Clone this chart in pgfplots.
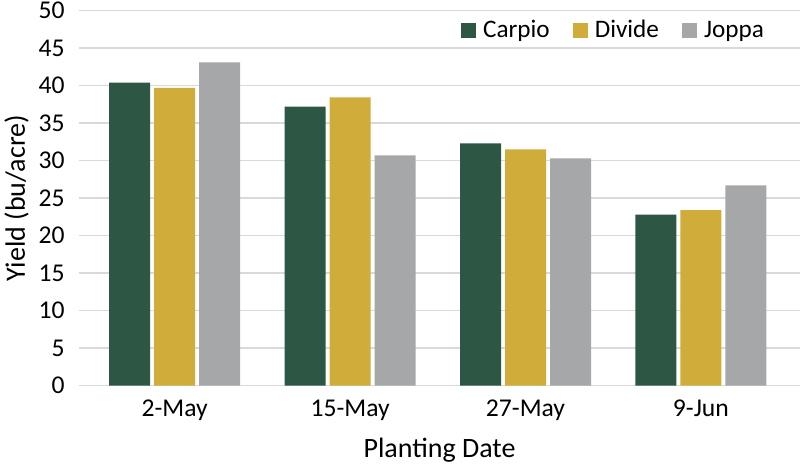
\documentclass[border=0pt]{standalone}
\usepackage{fontspec}
\setmainfont{Carlito}
\usepackage{pgfplots}
\pgfplotsset{compat=1.18}

\definecolor{carpio}{RGB}{46,86,68}
\definecolor{divide}{RGB}{208,172,58}
\definecolor{joppa}{RGB}{165,167,169}
\definecolor{gridgray}{RGB}{217,217,217}

\begin{document}
\begin{tikzpicture}
\begin{axis}[
  ybar=2pt,
  bar width=20.5pt,
  scale only axis,
  width=360.5pt, height=187.5pt,
  xmin=-0.5456, xmax=3.565,
  ymin=0, ymax=50,
  ytick={0,5,...,50},
  xtick=data,
  xticklabels={2-May,15-May,27-May,9-Jun},
  axis line style={draw=none},
  major tick length=0pt,
  ymajorgrids,
  grid style={gridgray, line width=0.75pt},
  /pgf/number format/assume math mode=true,
  tick label style={font=\fontsize{12.8}{15}\selectfont},
  yticklabel style={anchor=east, inner xsep=0pt, xshift=-7pt},
  xticklabel style={anchor=base, yshift=-15.2pt},
  xlabel={Planting Date},
  ylabel={Yield (bu/acre)},
  label style={font=\fontsize{14}{16}\selectfont},
  xlabel style={at={(axis description cs:0.5,0)}, anchor=base, yshift=-36pt},
  ylabel style={at={(axis description cs:0,0.5)}, anchor=base, yshift=27pt},
  legend columns=-1,
  legend style={draw=none, fill=none, inner sep=0pt,
    at={(0.956,0.947)}, anchor=east,
    font=\fontsize{12.6}{15}\selectfont,
    /tikz/every odd column/.append style={column sep=1.5pt},
    /tikz/every even column/.append style={column sep=9.5pt}},
  legend image code/.code={\fill[#1] (0pt,-3.75pt) rectangle (7.5pt,3.75pt);},
]
\addplot[fill=carpio, draw=none] coordinates {(0,40.4) (1,37.2) (2,32.3) (3,22.8)};
\addlegendentry{Carpio}
\addplot[fill=divide, draw=none] coordinates {(0,39.7) (1,38.45) (2,31.5) (3,23.4)};
\addlegendentry{Divide}
\addplot[fill=joppa, draw=none] coordinates {(0,43.1) (1,30.7) (2,30.3) (3,26.7)};
\addlegendentry{Joppa}
\end{axis}
\pgfresetboundingbox
\path ([xshift=-39.5pt,yshift=-39.65pt]current axis.south west) rectangle ([yshift=5.35pt]current axis.north east);
\end{tikzpicture}
\end{document}
